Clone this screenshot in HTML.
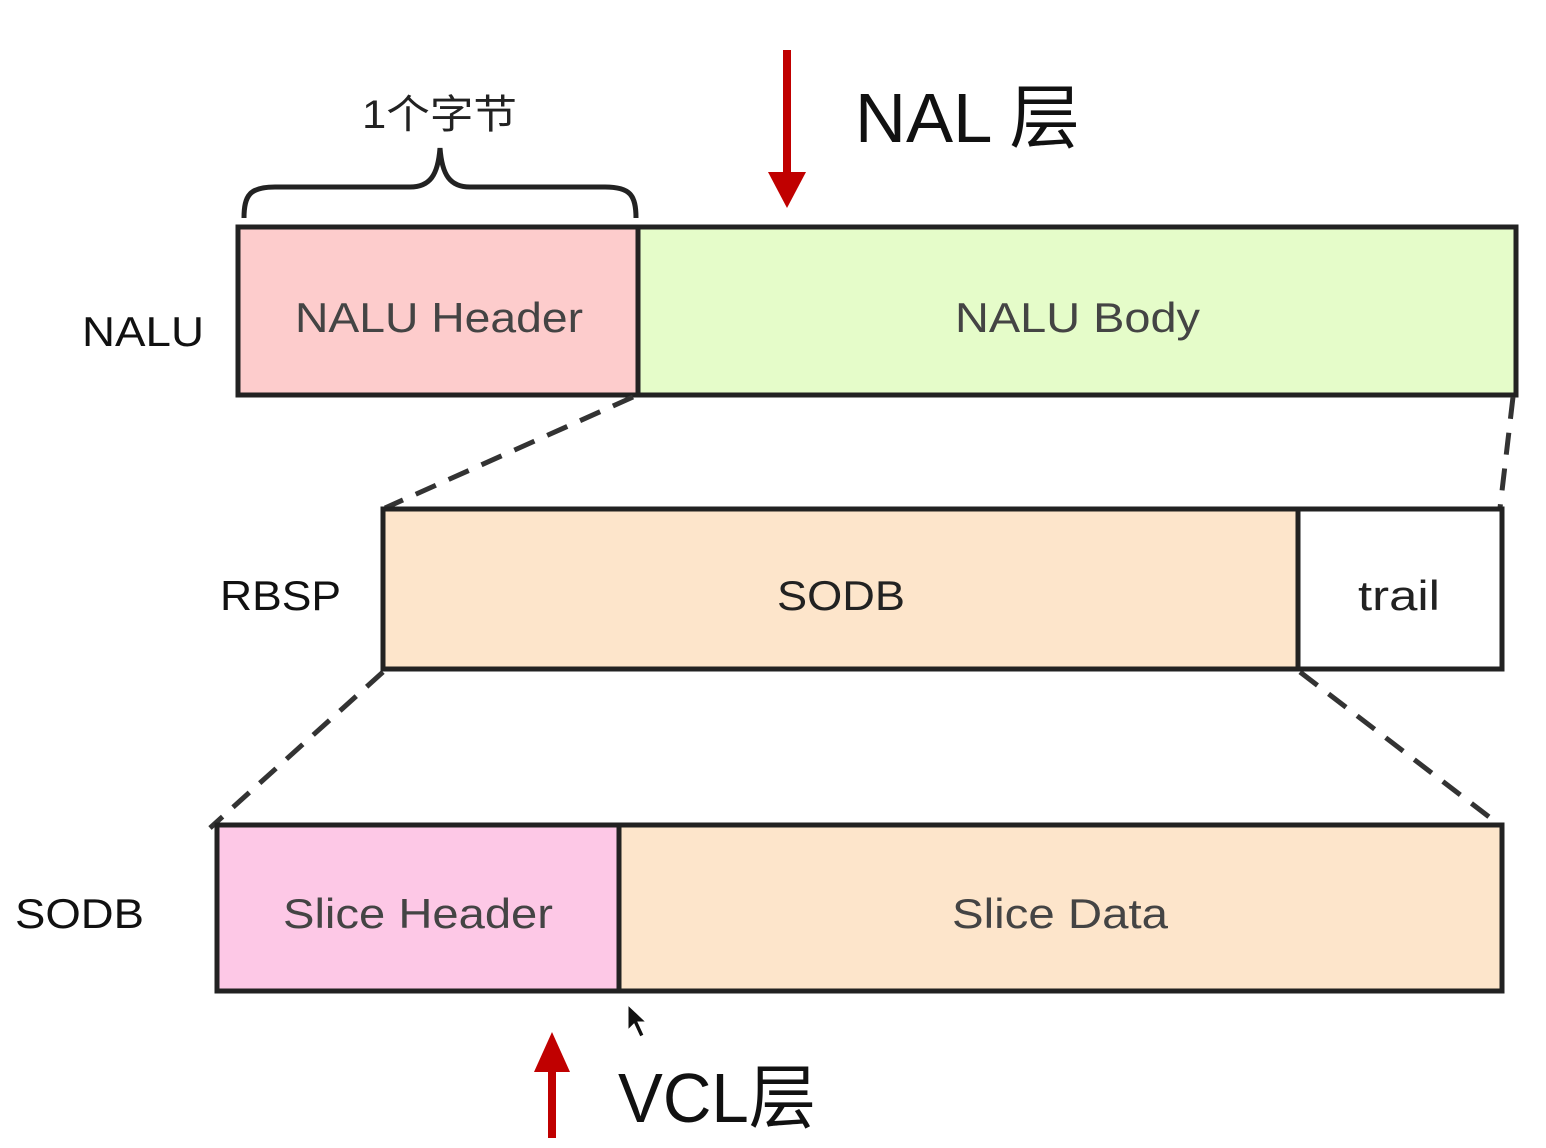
<!DOCTYPE html>
<html><head><meta charset="utf-8"><style>
html,body{margin:0;padding:0;background:#fff;}
svg{display:block;}
text{font-family:"Liberation Sans","Noto Sans CJK SC",sans-serif;}
</style></head><body>
<svg width="1546" height="1148" viewBox="0 0 1546 1148" xmlns="http://www.w3.org/2000/svg">
<rect width="1546" height="1148" fill="#fff"/>
<line x1="787" y1="50" x2="787" y2="175" stroke="#c00000" stroke-width="8"/>
<polygon points="768,172 806,172 787,208" fill="#c00000"/>
<text x="855" y="142" font-size="70" fill="#111" textLength="225" lengthAdjust="spacingAndGlyphs">NAL 层</text>
<path d="M244,218 C244,195 250,187 275,187 L410,187 C430,187 438,175 440,148 C442,175 450,187 470,187 L605,187 C630,187 636,195 636,218" fill="none" stroke="#222" stroke-width="5"/>
<text x="362" y="128" font-size="40" fill="#222" textLength="155" lengthAdjust="spacingAndGlyphs">1个字节</text>
<text x="82" y="346" font-size="42" fill="#111" textLength="122" lengthAdjust="spacingAndGlyphs">NALU</text>
<rect x="238" y="227" width="400" height="168" fill="#fdcccc" stroke="#222" stroke-width="5"/>
<rect x="638" y="227" width="878" height="168" fill="#e5fcc9" stroke="#222" stroke-width="5"/>
<text x="295" y="332" font-size="42" fill="#444" textLength="288" lengthAdjust="spacingAndGlyphs">NALU Header</text>
<text x="955" y="332" font-size="42" fill="#444" textLength="245" lengthAdjust="spacingAndGlyphs">NALU Body</text>
<g stroke="#333" stroke-width="5" stroke-dasharray="22,14" fill="none">
<line x1="633" y1="397" x2="385" y2="508"/>
<line x1="1513" y1="397" x2="1500" y2="508"/>
<line x1="383" y1="672" x2="210" y2="828"/>
<line x1="1300" y1="672" x2="1497" y2="823"/>
</g>
<text x="220" y="610" font-size="42" fill="#111" textLength="121" lengthAdjust="spacingAndGlyphs">RBSP</text>
<rect x="383" y="509" width="915" height="160" fill="#fde5cb" stroke="#222" stroke-width="5"/>
<rect x="1298" y="509" width="204" height="160" fill="#fff" stroke="#222" stroke-width="5"/>
<text x="777" y="610" font-size="42" fill="#222" textLength="128" lengthAdjust="spacingAndGlyphs">SODB</text>
<text x="1358" y="610" font-size="42" fill="#222" textLength="82" lengthAdjust="spacingAndGlyphs">trail</text>
<text x="15" y="928" font-size="42" fill="#111" textLength="129" lengthAdjust="spacingAndGlyphs">SODB</text>
<rect x="217" y="825" width="402" height="166" fill="#fdc8e6" stroke="#222" stroke-width="5"/>
<rect x="619" y="825" width="883" height="166" fill="#fde5cb" stroke="#222" stroke-width="5"/>
<text x="283" y="928" font-size="42" fill="#444" textLength="270" lengthAdjust="spacingAndGlyphs">Slice Header</text>
<text x="952" y="928" font-size="42" fill="#444" textLength="216" lengthAdjust="spacingAndGlyphs">Slice Data</text>
<polygon points="628,1005 628,1030 634,1024 640,1037 644,1035 638,1022 646,1022" fill="#111" stroke="#fff" stroke-width="1"/>
<line x1="552" y1="1070" x2="552" y2="1138" stroke="#c00000" stroke-width="8"/>
<polygon points="534,1072 570,1072 552,1032" fill="#c00000"/>
<text x="618" y="1122" font-size="70" fill="#111" textLength="198" lengthAdjust="spacingAndGlyphs">VCL层</text>
</svg>
</body></html>
